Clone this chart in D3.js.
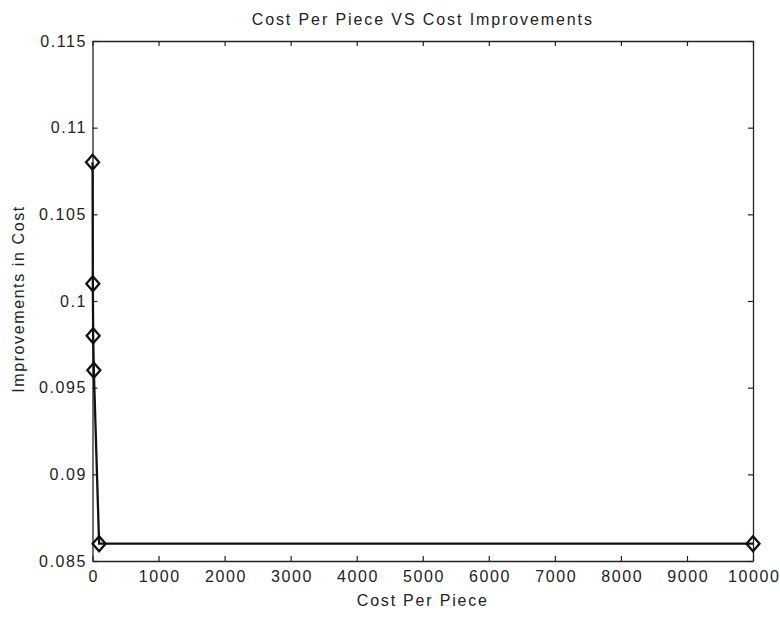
<!DOCTYPE html>
<html><head><meta charset="utf-8">
<script src="https://cdn.jsdelivr.net/npm/d3@7"></script>
<style>
html,body{margin:0;padding:0;background:#fff;}
text{font-family:"Liberation Sans",Arial,sans-serif;fill:#222;}
</style></head>
<body>
<svg id="chart" width="780" height="617"></svg>
<script>
const costPerPiece = [1, 5, 10, 20, 100, 10000];
const improvements = [0.108, 0.101, 0.098, 0.096, 0.086, 0.086];
const xTicks = [0,1000,2000,3000,4000,5000,6000,7000,8000,9000,10000];
const yTicks = [0.085,0.09,0.095,0.1,0.105,0.11,0.115];
const yTickLabels = ["0.085","0.09","0.095","0.1","0.105","0.11","0.115"];

const svg = d3.select("#chart");
const L = 92.5, R = 753, T = 41, B = 561;
const x = d3.scaleLinear().domain([0,10000]).range([L,R]);
const y = d3.scaleLinear().domain([0.085,0.115]).range([B,T]);

svg.append("rect").attr("x",0).attr("y",0).attr("width",780).attr("height",617).attr("fill","#fff");

const fs = 16, ls = 1.6;
const xb = svg.append("g").attr("transform",`translate(0,${B})`)
  .call(d3.axisBottom(x).tickValues(xTicks).tickFormat(d3.format("d")).tickSizeInner(-5).tickSizeOuter(0).tickPadding(10));
const xt = svg.append("g").attr("transform",`translate(0,${T})`)
  .call(d3.axisTop(x).tickValues(xTicks).tickFormat("").tickSizeInner(-5).tickSizeOuter(0));
const yl = svg.append("g").attr("transform",`translate(${L},0)`)
  .call(d3.axisLeft(y).tickValues(yTicks).tickFormat((d,i)=>yTickLabels[i]).tickSizeInner(-5).tickSizeOuter(0).tickPadding(7));
const yr = svg.append("g").attr("transform",`translate(${R},0)`)
  .call(d3.axisRight(y).tickValues(yTicks).tickFormat("").tickSizeInner(-5).tickSizeOuter(0));
[xb,xt,yl,yr].forEach(g=>{
  g.selectAll(".domain").attr("stroke","#222").attr("stroke-width",1.3);
  g.selectAll(".tick line").attr("stroke","#222").attr("stroke-width",1.2);
  g.selectAll(".tick text").attr("font-size",fs).attr("fill","#222")
    .style("letter-spacing",ls+"px").style("font-family","'Liberation Sans',Arial,sans-serif");
});
// compensate trailing letter-spacing for centered x labels
xb.selectAll(".tick text").attr("dx",(ls/2)+"px");
yl.selectAll(".tick text").attr("dx",(ls)+"px");

const line = d3.line().x((d,i)=>x(costPerPiece[i])).y(d=>y(d));
svg.append("path").datum(improvements).attr("d",line)
  .attr("fill","none").attr("stroke","#111").attr("stroke-width",2.3);

const rx = 6.5, ry = 7.5;
svg.append("g").selectAll("path.m").data(improvements).join("path")
  .attr("class","m")
  .attr("d",(d,i)=>{const cx=x(costPerPiece[i]), cy=y(d);
    return `M${cx},${cy-ry}L${cx+rx},${cy}L${cx},${cy+ry}L${cx-rx},${cy}Z`;})
  .attr("fill","none").attr("stroke","#111").attr("stroke-width",2.3);

svg.append("text").attr("x",(L+R)/2).attr("y",25).attr("text-anchor","middle")
  .attr("font-size",16).style("letter-spacing","1.9px").text("Cost Per Piece VS Cost Improvements");
svg.append("text").attr("x",(L+R)/2).attr("y",606).attr("text-anchor","middle")
  .attr("font-size",16).style("letter-spacing","1.8px").text("Cost Per Piece");
svg.append("text").attr("transform",`translate(24,${(T+B)/2 - 2}) rotate(-90)`).attr("text-anchor","middle")
  .attr("font-size",16).style("letter-spacing","1.6px").text("Improvements in Cost");
</script>
</body></html>
